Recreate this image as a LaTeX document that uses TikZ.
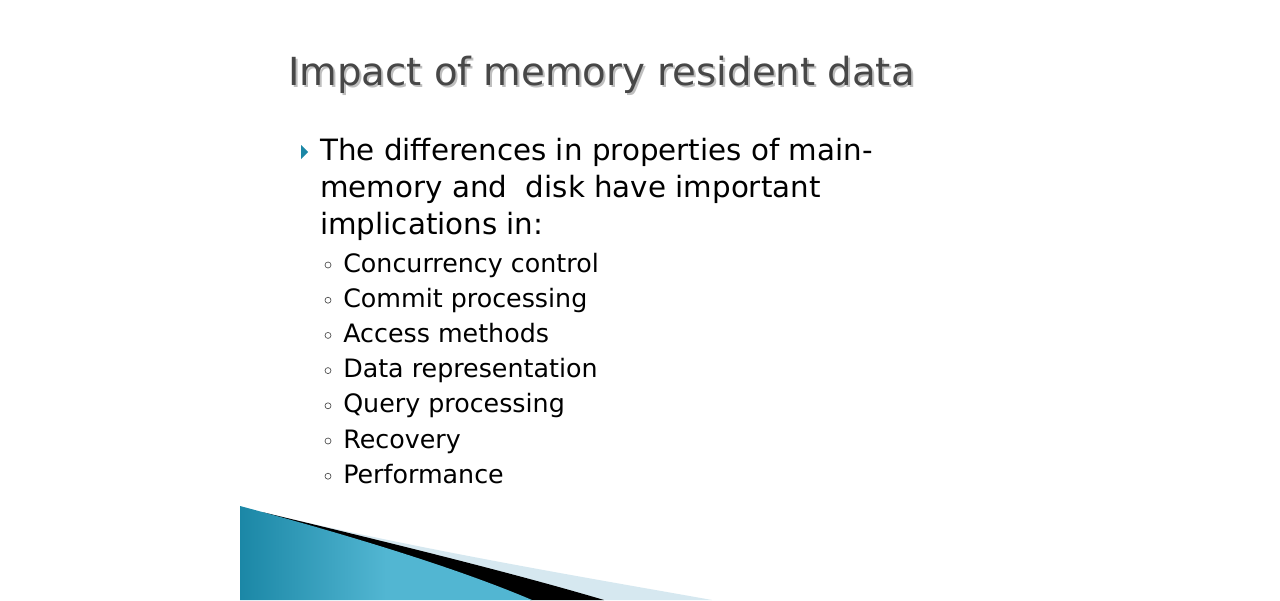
\documentclass[tikz,border=0pt]{standalone}
\usepackage{fontspec}
\setmainfont{DejaVu Sans}
\begin{document}
\begin{tikzpicture}[x=0.75pt,y=-0.75pt,
  body/.style={anchor=base west,inner sep=0pt,font=\fontsize{22}{26}\selectfont,text=black},
  sub/.style={anchor=base west,inner sep=0pt,font=\fontsize{19}{22}\selectfont,text=black},
  dot/.style={circle,draw=black!70,line width=0.5pt,inner sep=0pt,minimum size=4.5pt}]
\definecolor{teal1}{HTML}{1B87A6}
\definecolor{teal2}{HTML}{52B6D2}
\definecolor{pale}{HTML}{D6E8F0}
\definecolor{tgray}{HTML}{474747}
\useasboundingbox (0,0) rectangle (1280,600);
\fill[white] (0,0) rectangle (1280,600);
% decoration
\fill[pale] (300,521) .. controls (450,555) and (600,580) .. (712,600) -- (600,600) -- cycle;
\fill[black] (262,512) .. controls (400,545) and (520,575) .. (604,600) -- (530,600) -- cycle;
\shade[left color=teal1,right color=teal2,middle color=teal2] (240,506) .. controls (330,530) and (450,565) .. (532,600) -- (240,600) -- cycle;
% title
\node[anchor=base west,inner sep=0pt,text=black!25] at (290,87) {\fontsize{29}{34}\selectfont Impact of memory resident data};
\node (title) [anchor=base west,inner sep=0pt,text=tgray] at (288,85) {\fontsize{29}{34}\selectfont Impact of memory resident data};
% main bullet
\fill[teal1] (301,145) -- (308,152) -- (301,159) -- cycle;
\node (b1) [body] at (320,160) {The differences in properties of main-};
\node (b2) [body] at (320,197) {memory and\ \ disk have important};
\node (b3) [body] at (320,234) {implications in:};
% sub bullets
\foreach \t [count=\i] in {Concurrency control,Commit processing,Access methods,Data representation,Query processing,Recovery,Performance}{
  \pgfmathsetmacro{\yy}{272+35.2*(\i-1)}
  \node[dot] (d\i) at (328,\yy-7) {};
  \node[sub] (s\i) at (343,\yy) {\t};
}
\end{tikzpicture}
\end{document}
